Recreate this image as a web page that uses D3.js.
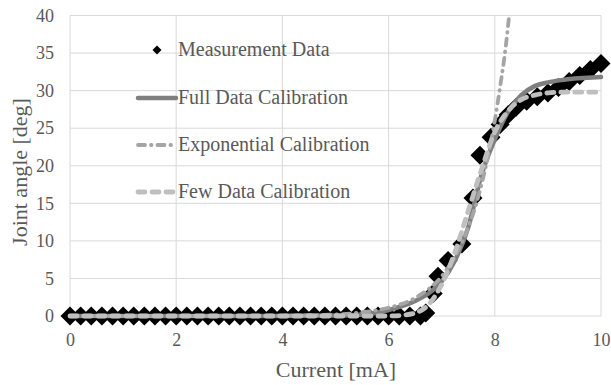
<!DOCTYPE html>
<html><head><meta charset="utf-8">
<script src="https://cdn.jsdelivr.net/npm/d3@7"></script>
<style>body{margin:0;background:#fff}svg{display:block}text{font-family:"Liberation Serif","Times New Roman",serif;fill:#595959}</style>
</head><body>
<svg id="c" width="611" height="385"></svg>
<script>
// ---- data ----
const measX = [0,0.2,0.4,0.6,0.8,1.0,1.2,1.4,1.6,1.8,2.0,2.2,2.4,2.6,2.8,3.0,3.2,3.4,3.6,3.8,4.0,4.2,4.4,4.6,4.8,5.0,5.2,5.4,5.6,5.8,6.0,6.2,6.4,6.6,6.7,6.84,6.93,7.12,7.38,7.59,7.72,7.93,8.1,8.25,8.4,8.6,8.8,9.0,9.2,9.4,9.6,9.8,10.0];
const measY = [0,0,0,0,0,0,0,0,0,0,0,0,0,0,0,0,0,0,0,0,0,0,0,0,0,0,0,0,0,0,0,0,0,0,0.4,3.0,5.3,7.4,9.6,15.7,21.4,23.8,25.5,26.8,27.8,28.6,29.2,29.7,30.4,31.2,32.0,32.8,33.6];

const fullX = [0,1,2,3,4,5,5.5,5.75,6.0,6.25,6.5,6.75,7.0,7.25,7.5,7.75,8.0,8.25,8.5,8.75,9.0,9.25,9.5,9.75,10];
const fullY = [0,0,0,0,0,0.05,0.2,0.4,0.8,1.3,2.0,3.0,4.6,7.4,11.8,18.8,23.5,27.2,29.4,30.6,31.1,31.4,31.6,31.7,31.8];

const expoX = [0,1,2,3,4,5,5.5,6.0,6.5,7.0,7.25,7.5,7.75,8.0,8.1,8.2,8.27];
const expoY = [0,0,0,0.01,0.05,0.2,0.5,1.1,2.4,5.3,7.9,11.8,17.5,26,30.5,35.5,40];

const fewX = [0,1,2,3,4,5,6.0,6.25,6.5,6.75,7.0,7.25,7.5,7.75,8.0,8.25,8.5,8.75,9.0,9.25,9.5,9.75,10];
const fewY = [0,0,0,0,0,0,0,0.1,0.4,1.5,4.2,8.5,14,19.5,24.5,27.3,28.8,29.4,29.7,29.8,29.8,29.8,29.8];

const xTicks = [0,2,4,6,8,10];
const yTicks = [0,5,10,15,20,25,30,35,40];
const legendLabels = ["Measurement Data","Full Data Calibration","Exponential Calibration","Few Data Calibration"];

// ---- chart ----
const svg = d3.select("#c");
const x = d3.scaleLinear().domain([0,10]).range([70,601]);
const y = d3.scaleLinear().domain([0,40]).range([316,15.5]);

// gridlines
svg.append("g").selectAll("line.h").data(yTicks).join("line")
  .attr("x1",x(0)).attr("x2",x(10)).attr("y1",d=>y(d)).attr("y2",d=>y(d))
  .attr("stroke","#d9d9d9").attr("stroke-width",1);
svg.append("g").selectAll("line.v").data(xTicks).join("line")
  .attr("x1",d=>x(d)).attr("x2",d=>x(d)).attr("y1",y(0)).attr("y2",y(40))
  .attr("stroke","#d9d9d9").attr("stroke-width",1);

// axes (labels only)
const xAxis = d3.axisBottom(x).tickValues(xTicks).tickSize(0).tickPadding(0);
const gx = svg.append("g").attr("transform",`translate(0,${y(0)})`).call(xAxis);
gx.select(".domain").remove();
gx.selectAll("text").attr("y",24).attr("dy","0.32em").attr("font-size",18)
  .attr("font-family","Liberation Serif").attr("fill","#595959");
const yAxis = d3.axisLeft(y).tickValues(yTicks).tickSize(0).tickPadding(0);
const gy = svg.append("g").attr("transform",`translate(${x(0)},0)`).call(yAxis);
gy.select(".domain").remove();
gy.selectAll("text").attr("x",-16).attr("font-size",18)
  .attr("font-family","Liberation Serif").attr("fill","#595959");

// titles
svg.append("text").attr("x",336).attr("y",377).attr("text-anchor","middle").attr("font-size",22).text("Current [mA]");
svg.append("text").attr("transform","translate(27,172) rotate(-90)").attr("text-anchor","middle").attr("font-size",22).text("Joint angle [deg]");

// measurement diamonds
const diamond = (s)=>`M0,${-s}L${s},0L0,${s}L${-s},0Z`;
svg.append("g").selectAll("path").data(measX.map((v,i)=>[v,measY[i]])).join("path")
  .attr("d",diamond(9.5)).attr("transform",d=>`translate(${x(d[0])},${y(d[1])})`).attr("fill","#000");

const line = d3.line().x(d=>x(d[0])).y(d=>y(d[1])).curve(d3.curveMonotoneX);
const styles = [
  {xs:fullX, ys:fullY, color:"#7f7f7f", w:4.5, dash:null},
  {xs:expoX, ys:expoY, color:"#a5a5a5", w:3.8, dash:"7,6,0.5,6"},
  {xs:fewX, ys:fewY, color:"#bfbfbf", w:4.8, dash:"7,7"}
];
styles.forEach(s=>{
  svg.append("path").datum(s.xs.map((v,i)=>[v,s.ys[i]])).attr("d",line)
    .attr("fill","none").attr("stroke",s.color).attr("stroke-width",s.w)
    .attr("stroke-linecap","round").attr("stroke-linejoin","round")
    .attr("stroke-dasharray",s.dash);
});

// legend
const lg = svg.append("g");
const ly = [50,98,145,192];
lg.append("path").attr("d",diamond(4.5)).attr("transform",`translate(157,${ly[0]})`).attr("fill","#000");
styles.forEach((s,i)=>{
  lg.append("line").attr("x1",138).attr("x2",176).attr("y1",ly[i+1]).attr("y2",ly[i+1])
    .attr("stroke",s.color).attr("stroke-width",s.w).attr("stroke-linecap","round").attr("stroke-dasharray",s.dash);
});
legendLabels.forEach((t,i)=>{
  lg.append("text").attr("x",178).attr("y",ly[i]).attr("dy","0.32em").attr("font-size",20).text(t);
});
</script>
</body></html>
